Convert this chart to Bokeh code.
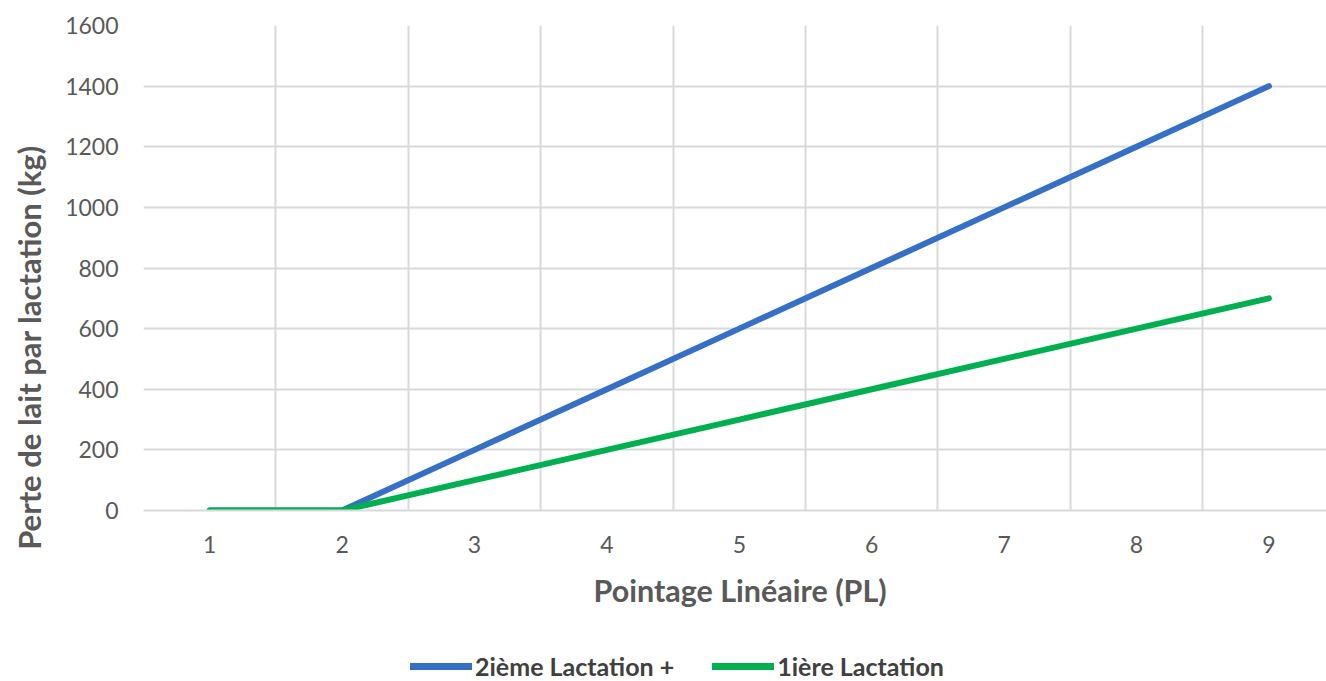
import math
from bokeh.plotting import figure
from bokeh.layouts import column, row
from bokeh.models import Range1d, FixedTicker, Legend, LegendItem, Title, Label
from bokeh.embed import file_html
from bokeh.resources import INLINE

# Data
pl_scores = [1, 2, 3, 4, 5, 6, 7, 8, 9]
second_lactation = [0, 0, 200, 400, 600, 800, 1000, 1200, 1400]
first_lactation = [0, 0, 100, 200, 300, 400, 500, 600, 700]
series_names = ["2ième Lactation +", "1ière Lactation"]
y_ticks = [0, 200, 400, 600, 800, 1000, 1200, 1400, 1600]
x_title = "Pointage Linéaire (PL)"
y_title = "Perte de lait par lactation (kg)"

FONT = "Lato"
BLUE = "#3570C6"
GREEN = "#00B050"
GRID = "#D9D9D9"
TEXT = "#595959"

W = 1326
TITLE_W = 55
H_MAIN, H_LEG = 621, 60
LEFT, TOP = 143, 25
BOTTOM_PANEL = H_MAIN - 511
unit_px = 132.4
x_end = 0.5 + (W - LEFT) / unit_px

# strip holding the vertical axis title
yf = figure(width=TITLE_W, height=H_MAIN, output_backend="svg", toolbar_location=None,
            x_range=Range1d(0, TITLE_W), y_range=Range1d(0, H_MAIN),
            x_axis_type=None, y_axis_type=None,
            min_border_left=0, min_border_right=0, min_border_top=0, min_border_bottom=0)
yf.frame_align = False
yf.outline_line_color = None
yf.xgrid.visible = False
yf.ygrid.visible = False
yf.add_layout(Label(x=28, y=H_MAIN - 347, text=y_title, angle=math.pi / 2,
                    text_align="center", text_baseline="middle",
                    text_font=FONT, text_font_style="bold", text_font_size="31px",
                    text_color=TEXT))

p = figure(width=W - TITLE_W, height=H_MAIN, output_backend="svg", toolbar_location=None,
           x_range=Range1d(0.5, x_end), y_range=Range1d(0, 1600),
           min_border_left=LEFT - TITLE_W, min_border_right=0, min_border_top=TOP,
           min_border_bottom=BOTTOM_PANEL)
p.outline_line_color = None
p.frame_align = False

p.line(pl_scores, second_lactation, line_color=BLUE, line_width=6,
       line_cap="round", line_join="round")
p.line(pl_scores, first_lactation, line_color=GREEN, line_width=6,
       line_cap="round", line_join="round")

# axes
p.xaxis.ticker = FixedTicker(ticks=pl_scores)
p.yaxis.ticker = FixedTicker(ticks=y_ticks)
for ax in (p.xaxis[0], p.yaxis[0]):
    ax.major_tick_line_color = None
    ax.minor_tick_line_color = None
    ax.major_tick_out = 0
    ax.major_tick_in = 0
    ax.minor_tick_out = 0
    ax.minor_tick_in = 0
    ax.major_label_text_font = FONT
    ax.major_label_text_font_size = "23px"
    ax.major_label_text_color = TEXT
p.yaxis.axis_line_color = None
p.xaxis.axis_line_color = GRID
p.xaxis.axis_line_width = 2
p.xaxis.major_label_standoff = 25
p.yaxis.major_label_standoff = 25

# grids
p.xgrid.ticker = FixedTicker(ticks=[i + 0.5 for i in range(0, 10)])
p.ygrid.ticker = FixedTicker(ticks=y_ticks)
p.xgrid.grid_line_color = GRID
p.ygrid.grid_line_color = GRID
p.xgrid.grid_line_width = 2
p.ygrid.grid_line_width = 2

# x axis title
xt = Title(text=x_title, align="left", offset=593 - LEFT, standoff=28,
           text_font=FONT, text_font_style="bold", text_font_size="30.5px",
           text_color=TEXT)
p.add_layout(xt, "below")

# legend strip (its renderers carry the series data but lie outside the view)
pl = figure(width=W, height=H_LEG, output_backend="svg", toolbar_location=None,
            x_range=Range1d(100, 200), y_range=Range1d(5000, 6000),
            x_axis_type=None, y_axis_type=None,
            min_border_left=0, min_border_right=0, min_border_top=0, min_border_bottom=0)
pl.frame_align = False
pl.outline_line_color = None
pl.xgrid.visible = False
pl.ygrid.visible = False
lb = pl.line(pl_scores, second_lactation, line_color=BLUE, line_width=7, line_cap="round")
lg = pl.line(pl_scores, first_lactation, line_color=GREEN, line_width=7, line_cap="round")
legend = Legend(items=[LegendItem(label=series_names[0], renderers=[lb]),
                       LegendItem(label=series_names[1], renderers=[lg])],
                orientation="horizontal", location=(410, 0),
                padding=0, margin=0, spacing=38, glyph_width=62, glyph_height=20,
                label_height=20, label_standoff=3,
                label_text_font=FONT, label_text_font_style="bold",
                label_text_font_size="25px", label_text_color="#404040",
                border_line_color=None, background_fill_alpha=0)
pl.add_layout(legend, "center")

layout = column(row(yf, p, spacing=0), pl, spacing=0)
open("out.html", "w").write(file_html(layout, INLINE))
